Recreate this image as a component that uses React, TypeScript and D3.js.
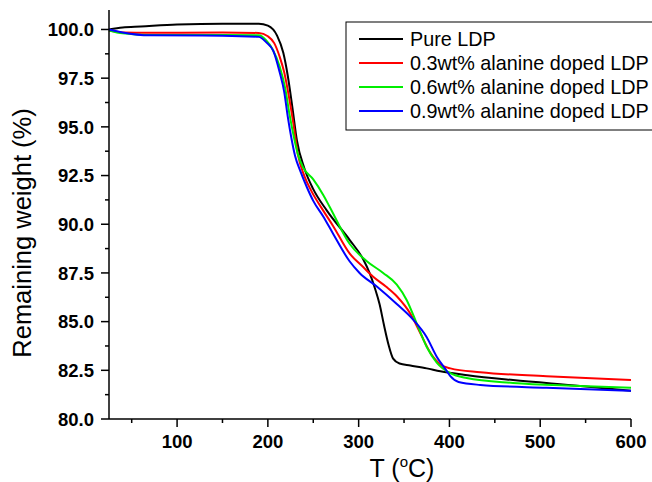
import * as d3 from "d3";

const W = 652;
const H = 482;
const MARGIN = { top: 10, right: 21, bottom: 63, left: 109 };

// TGA curves: temperature (°C) and remaining weight (%)
const pureT = [25, 40, 60, 100, 150, 190, 200, 210, 217, 222, 227, 232, 240, 250, 265, 290, 305, 312, 318, 323, 328, 333, 338, 345, 357, 375, 390, 420, 470, 544, 600];
const pureW = [100.0, 100.1, 100.15, 100.25, 100.3, 100.3, 100.2, 99.7, 98.8, 97.6, 96.0, 94.3, 92.9, 91.8, 90.7, 89.2, 88.2, 87.5, 86.7, 85.9, 84.8, 83.8, 83.1, 82.85, 82.75, 82.6, 82.45, 82.25, 82.0, 81.7, 81.45];

const d03T = [25, 40, 70, 150, 190, 200, 207, 213, 218, 223, 228, 233, 240, 248, 261, 272, 290, 305, 316, 330, 342, 357, 368, 379, 390, 401, 434, 507, 600];
const d03W = [99.95, 99.85, 99.83, 99.85, 99.82, 99.65, 99.3, 98.6, 97.8, 96.6, 95.2, 93.6, 92.5, 91.7, 90.7, 89.9, 88.5, 87.8, 87.3, 86.8, 86.3, 85.4, 84.4, 83.4, 82.8, 82.6, 82.4, 82.2, 82.0];

const d06T = [25, 40, 70, 150, 190, 198, 205, 213, 219, 224, 229, 233, 239, 250, 261, 268, 290, 309, 327, 342, 353, 364, 375, 386, 401, 419, 470, 544, 600];
const d06W = [99.95, 99.8, 99.72, 99.72, 99.7, 99.45, 99.0, 98.1, 97.0, 95.6, 94.4, 93.6, 92.9, 92.3, 91.5, 90.9, 89.0, 88.1, 87.5, 86.9, 86.1, 84.9, 83.7, 82.9, 82.35, 82.1, 81.85, 81.7, 81.6];

const d09T = [25, 40, 70, 150, 190, 198, 206, 213, 218, 222, 226, 230, 236, 243, 250, 261, 272, 290, 301, 320, 342, 360, 375, 386, 395, 401, 410, 434, 507, 600];
const d09W = [100.0, 99.85, 99.7, 99.68, 99.62, 99.35, 98.9, 97.8, 96.8, 95.5, 94.4, 93.5, 92.7, 91.9, 91.2, 90.4, 89.5, 88.1, 87.5, 86.8, 85.9, 85.1, 84.2, 83.2, 82.6, 82.2, 81.9, 81.75, 81.6, 81.45];

const seriesNames = ["Pure LDP", "0.3wt% alanine doped LDP", "0.6wt% alanine doped LDP", "0.9wt% alanine doped LDP"];
const seriesColors = ["#000000", "#ff0000", "#00ee00", "#0000ff"];
const seriesT = [pureT, d03T, d06T, d09T];
const seriesW = [pureW, d03W, d06W, d09W];

const xMajor = [100, 200, 300, 400, 500, 600];
const xMinor = [50, 150, 250, 350, 450, 550];
const yMajor = [80, 82.5, 85, 87.5, 90, 92.5, 95, 97.5, 100];
const yMinor = [81.25, 83.75, 86.25, 88.75, 91.25, 93.75, 96.25, 98.75];

const FONT = "Arial, 'Liberation Sans', sans-serif";

const App = () => {
  const x = d3.scaleLinear().domain([25, 600]).range([MARGIN.left, W - MARGIN.right]);
  const y = d3.scaleLinear().domain([80, 101]).range([H - MARGIN.bottom, MARGIN.top]);

  const line = d3
    .line<[number, number]>()
    .x((d) => x(d[0]))
    .y((d) => y(d[1]))
    .curve(d3.curveMonotoneX);

  const x0 = x(25);
  const y0 = y(80);

  return (
    <svg
      width={W}
      height={H}
      style={{ position: "absolute", left: 0, top: 0, background: "#fff" }}
      fontFamily={FONT}
    >
      {/* curves */}
      {seriesT.map((ts, i) => (
        <path
          key={i}
          d={line(ts.map((t, j) => [t, seriesW[i][j]]) as [number, number][]) || ""}
          fill="none"
          stroke={seriesColors[i]}
          strokeWidth={2}
        />
      ))}

      {/* axes */}
      <line x1={x0} x2={x0} y1={y(101)} y2={y0} stroke="#000" strokeWidth={1.5} />
      <line x1={x0} x2={x(600)} y1={y0} y2={y0} stroke="#000" strokeWidth={1.5} />

      {yMajor.map((v) => (
        <g key={"ym" + v}>
          <line x1={x0 - 8} x2={x0} y1={y(v)} y2={y(v)} stroke="#000" strokeWidth={1.5} />
          <text x={x0 - 15} y={y(v)} dy="0.36em" textAnchor="end" fontSize={18.5} fontWeight="bold">
            {v.toFixed(1)}
          </text>
        </g>
      ))}
      {yMinor.map((v) => (
        <line key={"yn" + v} x1={x0 - 4} x2={x0} y1={y(v)} y2={y(v)} stroke="#000" strokeWidth={1.5} />
      ))}

      {xMajor.map((v) => (
        <g key={"xm" + v}>
          <line x1={x(v)} x2={x(v)} y1={y0} y2={y0 + 8} stroke="#000" strokeWidth={1.5} />
          <text x={x(v)} y={y0 + 29} textAnchor="middle" fontSize={18.5} fontWeight="bold">
            {v}
          </text>
        </g>
      ))}
      {xMinor.map((v) => (
        <line key={"xn" + v} x1={x(v)} x2={x(v)} y1={y0} y2={y0 + 4} stroke="#000" strokeWidth={1.5} />
      ))}

      {/* axis titles */}
      <text x={402} y={477} textAnchor="middle" fontSize={25}>
        T (<tspan fontSize={15} dy={-10}>o</tspan>
        <tspan dy={10}>C)</tspan>
      </text>
      <text
        transform={`translate(31,233) rotate(-90)`}
        textAnchor="middle"
        fontSize={25.5}
      >
        Remaining weight (%)
      </text>

      {/* legend */}
      <rect x={346} y={22} width={320} height={108} fill="#fff" stroke="#000" strokeWidth={1} />
      {seriesNames.map((name, i) => (
        <g key={name}>
          <line x1={359} x2={403} y1={39 + i * 24} y2={39 + i * 24} stroke={seriesColors[i]} strokeWidth={2} />
          <text x={410} y={46 + i * 24} fontSize={19.8}>
            {name}
          </text>
        </g>
      ))}
    </svg>
  );
};

export default App;
